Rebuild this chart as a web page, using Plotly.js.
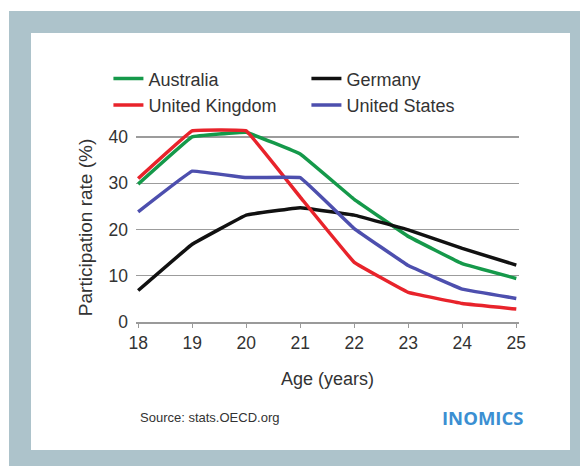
<!DOCTYPE html>
<html>
<head>
<meta charset="utf-8">
<script src="https://cdn.plot.ly/plotly-3.0.1.min.js"></script>
<style>
html,body{margin:0;padding:0;background:#ffffff;}
#frame{position:absolute;left:9px;top:11px;width:571px;height:455px;background:#adc3cb;}
#card{position:absolute;left:31px;top:33px;width:539px;height:417px;background:#ffffff;}
#chart{position:absolute;left:0;top:0;width:580px;height:466px;}
</style>
</head>
<body>
<div id="frame"></div>
<div id="card"></div>
<div id="chart"></div>
<script>
const ages = [18, 19, 20, 21, 22, 23, 24, 25];
const australia = [29.8, 40.0, 41.0, 36.3, 26.5, 18.5, 12.6, 9.4];
const germany = [6.8, 16.8, 23.1, 24.7, 23.1, 19.9, 15.9, 12.3];
const unitedKingdom = [31.0, 41.3, 41.3, 27.0, 12.9, 6.4, 4.0, 2.8];
const unitedStates = [23.8, 32.6, 31.2, 31.2, 20.2, 12.2, 7.1, 5.1];
const yTicks = [0, 10, 20, 30, 40];

const FONT = 'Liberation Sans, Arial, Helvetica, sans-serif';

function series(name, y, color) {
  return {
    x: ages, y: y, name: name, type: 'scatter', mode: 'lines',
    line: {color: color, width: 3.5, shape: 'spline', smoothing: 0.15},
    hoverinfo: 'skip'
  };
}

const data = [
  series('Australia', australia, '#15994a'),
  series('Germany', germany, '#111111'),
  series('United Kingdom', unitedKingdom, '#e8232b'),
  series('United States', unitedStates, '#4d4fae')
];

const layout = {
  width: 580, height: 466,
  margin: {l: 136, r: 61, t: 123, b: 144},
  paper_bgcolor: 'rgba(0,0,0,0)',
  plot_bgcolor: 'rgba(0,0,0,0)',
  font: {family: FONT, color: '#333333', size: 17},
  showlegend: true,
  legend: {
    orientation: 'h', x: -0.072, xanchor: 'left', y: 1.315, yanchor: 'top',
    entrywidth: 153, entrywidthmode: 'pixels',
    font: {family: FONT, size: 18, color: '#333333'},
    bgcolor: 'rgba(0,0,0,0)', tracegroupgap: 0, itemwidth: 30
  },
  xaxis: {
    range: [17.96, 25.05],
    tickvals: ages, ticktext: ages.map(String),
    showgrid: false, zeroline: false,
    showline: true, linecolor: '#9a9a9a', linewidth: 1.5,
    ticks: 'outside', ticklen: 4, tickcolor: '#9a9a9a', tickwidth: 1,
    tickfont: {family: FONT, size: 17.5, color: '#333333'},
    title: {text: 'Age (years)', font: {family: FONT, size: 18, color: '#333333'}, standoff: 21}
  },
  yaxis: {
    range: [0, 43],
    tickvals: yTicks, ticktext: yTicks.map(String),
    showgrid: true, gridcolor: '#9c9c9c', gridwidth: 1.3,
    zeroline: false, showline: false, ticks: '',
    ticklabelstandoff: 7,
    tickfont: {family: FONT, size: 17.5, color: '#333333'}
  },
  annotations: [
    {text: 'Participation rate (%)', xref: 'paper', yref: 'paper',
     x: -0.133, y: 0.472, xanchor: 'center', yanchor: 'middle', textangle: -90, showarrow: false,
     font: {family: FONT, size: 19, color: '#333333'}},
    {text: 'Source: stats.OECD.org', xref: 'paper', yref: 'paper',
     x: 0.005, y: -0.482, xanchor: 'left', yanchor: 'middle', showarrow: false,
     font: {family: FONT, size: 13, color: '#333333'}},
    {text: '<b>INOMICS</b>', xref: 'paper', yref: 'paper',
     x: 1.0157, y: -0.482, xanchor: 'right', yanchor: 'middle', showarrow: false,
     font: {family: 'Open Sans, Liberation Sans, sans-serif', size: 18.5, color: '#3b8fd2'}}
  ]
};

Plotly.newPlot('chart', data, layout, {staticPlot: true, displayModeBar: false});
</script>
</body>
</html>
